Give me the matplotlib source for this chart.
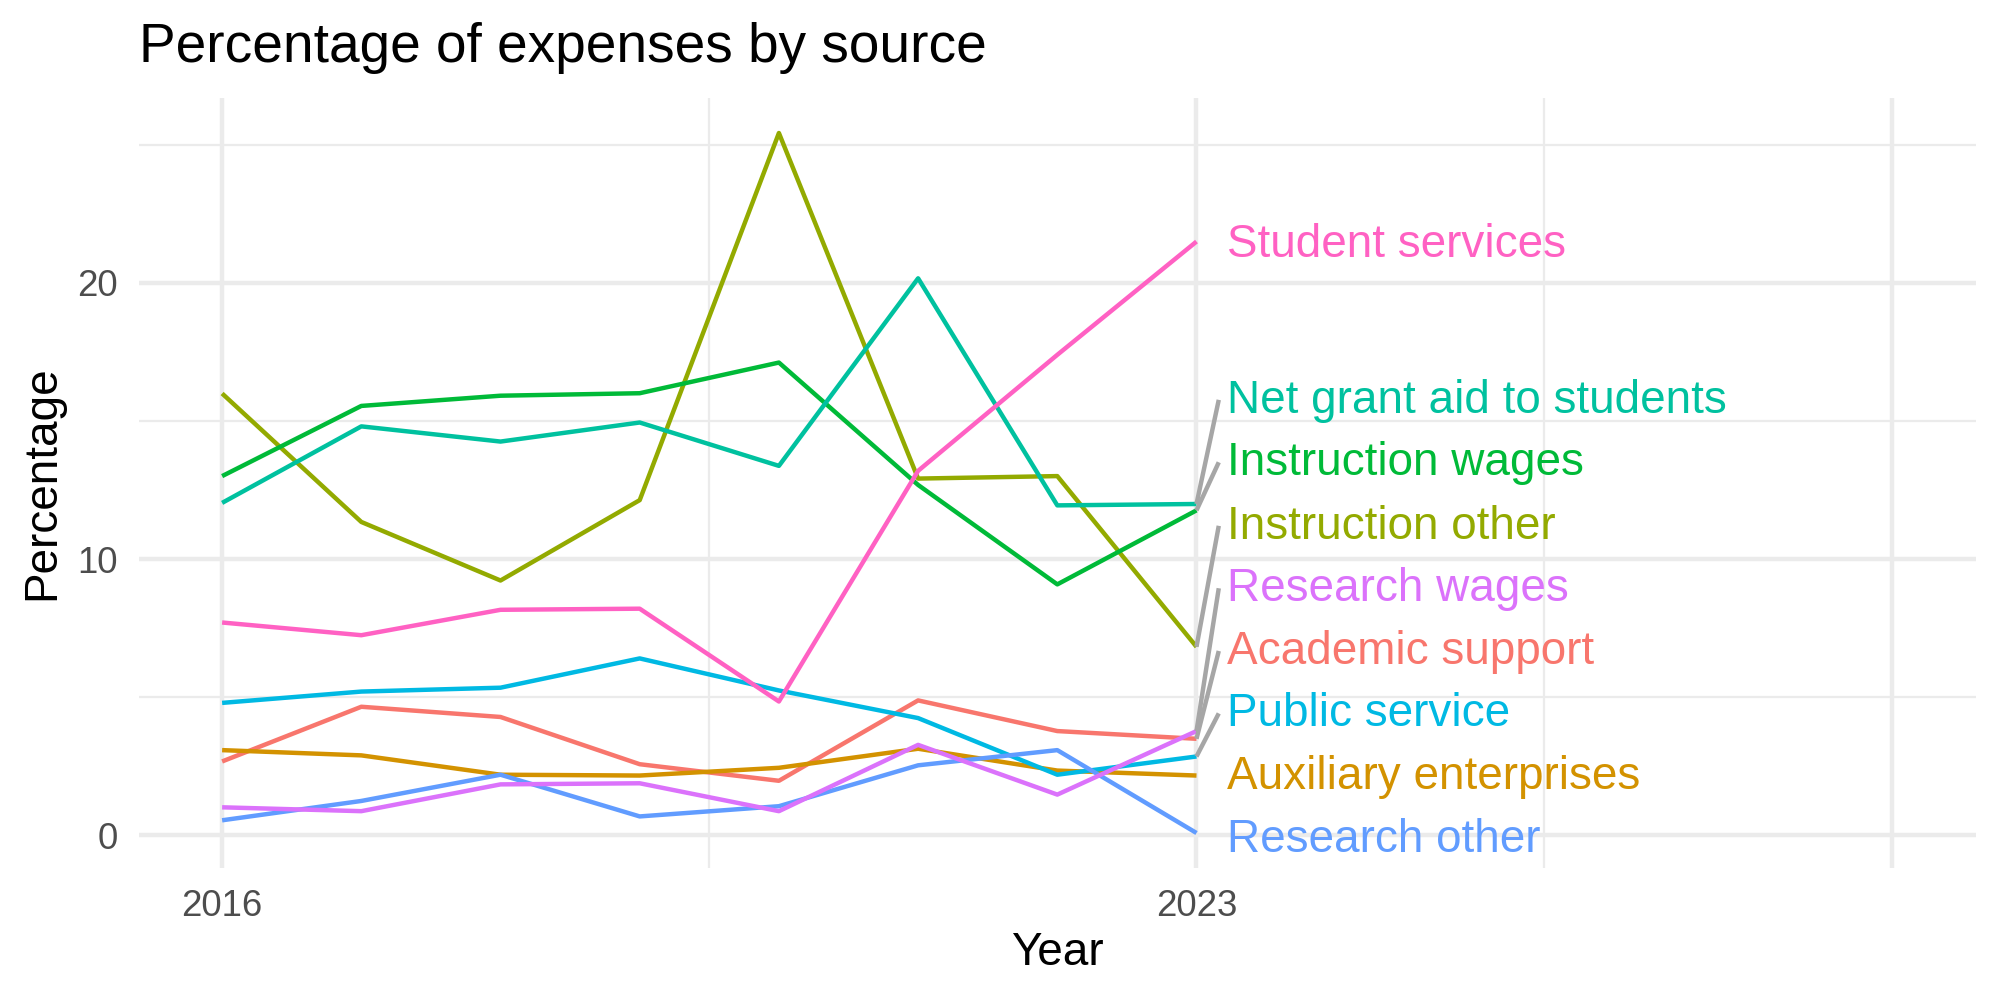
import matplotlib
matplotlib.use('Agg')
import matplotlib.pyplot as plt

# data
years = [2016, 2017, 2018, 2019, 2020, 2021, 2022, 2023]
academic_support = [2.68, 4.66, 4.29, 2.58, 1.98, 4.89, 3.78, 3.50]
auxiliary_enterprises = [3.09, 2.90, 2.20, 2.17, 2.45, 3.14, 2.35, 2.17]
instruction_other = [16.00, 11.35, 9.23, 12.14, 25.43, 12.92, 13.01, 6.83]
instruction_wages = [13.01, 15.55, 15.92, 16.01, 17.12, 12.69, 9.09, 11.77]
net_grant_aid = [12.04, 14.81, 14.26, 14.95, 13.38, 20.17, 11.95, 12.00]
public_service = [4.80, 5.21, 5.35, 6.41, 5.25, 4.25, 2.20, 2.86]
research_other = [0.55, 1.25, 2.20, 0.69, 1.06, 2.54, 3.09, 0.09]
research_wages = [1.02, 0.88, 1.85, 1.89, 0.88, 3.28, 1.48, 3.78]
student_services = [7.71, 7.25, 8.17, 8.21, 4.85, 13.20, 17.40, 21.50]

series = [
    ('Academic support', academic_support, '#F8766D'),
    ('Auxiliary enterprises', auxiliary_enterprises, '#D39200'),
    ('Instruction other', instruction_other, '#93AA00'),
    ('Instruction wages', instruction_wages, '#00BA38'),
    ('Net grant aid to students', net_grant_aid, '#00C19F'),
    ('Public service', public_service, '#00B9E3'),
    ('Research other', research_other, '#619CFF'),
    ('Research wages', research_wages, '#DB72FB'),
    ('Student services', student_services, '#FF61C3'),
]

# repelled label positions (y) at the right end
label_y = {
    'Student services': 21.50,
    'Net grant aid to students': 15.87,
    'Instruction wages': 13.61,
    'Instruction other': 11.31,
    'Research wages': 9.05,
    'Academic support': 6.78,
    'Public service': 4.52,
    'Auxiliary enterprises': 2.26,
    'Research other': -0.05,
}

plt.rcParams['font.family'] = ['Liberation Sans', 'DejaVu Sans']

fig = plt.figure(figsize=(20 / 3, 10 / 3), dpi=300)
ax = fig.add_axes([0.0693, 0.132, 0.988 - 0.0693, 0.902 - 0.132])

lw = 0.5 * 72.27 / 25.4 * 72 / 96  # ggplot linewidth 0.5 in points

for name, vals, col in series:
    ax.plot(years, vals, color=col, lw=lw, solid_capstyle='butt', zorder=3)

label_x = years[-1] + 0.22
for name, vals, col in series:
    ly = label_y[name]
    end = vals[-1]
    if abs(ly - end) > 0.5:
        ax.plot([years[-1], label_x - 0.06], [end, ly - 0.1], color='#A6A6A6',
                lw=lw, zorder=4, solid_capstyle='butt')
    ax.text(label_x, ly - 0.13, name, color=col, fontsize=11, ha='left',
            va='center', zorder=5)

# scales
allv = [v for _, vals, _ in series for v in vals]
lo, hi = min(allv), max(allv)
pad = (hi - lo) * 0.05
ax.set_ylim(lo - pad, hi + pad)
ax.set_xlim(2015.4, 2028.6)

ax.set_xticks([2016, 2023, 2028])
ax.set_xticklabels(['2016', '2023', ''])
ax.set_xticks([2019.5, 2025.5], minor=True)
ax.set_yticks([0, 10, 20])
ax.set_yticks([5, 15, 25], minor=True)

ax.grid(which='major', color='#EBEBEB', lw=lw, zorder=0)
ax.grid(which='minor', color='#EBEBEB', lw=lw / 2, zorder=0)
ax.set_axisbelow(True)
for s in ax.spines.values():
    s.set_visible(False)
ax.tick_params(which='both', length=0, labelsize=8.8, labelcolor='#4D4D4D', pad=5)

ax.set_xlabel('Year', fontsize=11)
ax.xaxis.label.set_va('center')
ax.xaxis.set_label_coords(0.5, -0.111)
ax.set_ylabel('Percentage', fontsize=11)
ax.yaxis.label.set_va('center')
ax.yaxis.set_label_coords(-0.0525, 0.5)

fig.text(0.0693, 0.952, 'Percentage of expenses by source', fontsize=13.2,
         ha='left', va='center')

fig.savefig('out.png', dpi=300, facecolor='white')
